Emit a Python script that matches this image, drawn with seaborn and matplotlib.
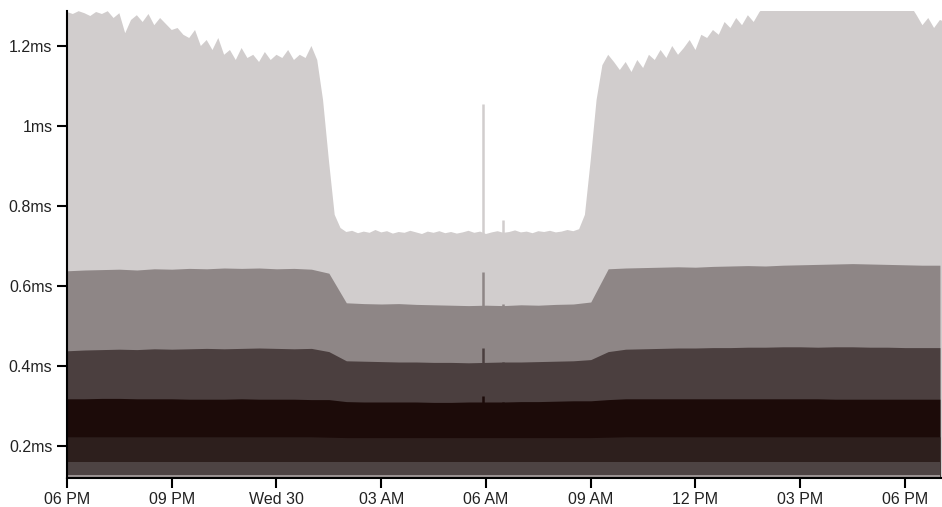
import numpy as np
import matplotlib
matplotlib.use("Agg")
import matplotlib.pyplot as plt
import seaborn as sns

# hours since 06 PM, 10-minute buckets for the outer band, 30-minute for the rest
top_light = [
    1.285, 1.280, 1.287, 1.282, 1.275, 1.285, 1.280, 1.287, 1.270, 1.282,
    1.232, 1.265, 1.277, 1.260, 1.280, 1.252, 1.270, 1.255, 1.240, 1.245,
    1.228, 1.220, 1.240, 1.200, 1.215, 1.190, 1.220, 1.178, 1.190, 1.165,
    1.195, 1.170, 1.178, 1.160, 1.185, 1.165, 1.178, 1.170, 1.190, 1.165,
    1.178, 1.170, 1.200, 1.165, 1.065, 0.915, 0.778, 0.745, 0.735, 0.738,
    0.732, 0.736, 0.733, 0.740, 0.734, 0.737, 0.731, 0.735, 0.733, 0.738,
    0.734, 0.730, 0.736, 0.733, 0.737, 0.732, 0.735, 0.731, 0.734, 0.738,
    0.733, 0.736, 0.730, 0.734, 0.737, 0.733, 0.735, 0.739, 0.734, 0.736,
    0.732, 0.737, 0.735, 0.738, 0.734, 0.736, 0.740, 0.737, 0.742, 0.778,
    0.915, 1.065, 1.152, 1.178, 1.160, 1.140, 1.160, 1.135, 1.165, 1.145,
    1.178, 1.165, 1.190, 1.170, 1.200, 1.178, 1.195, 1.215, 1.190, 1.228,
    1.220, 1.240, 1.228, 1.260, 1.245, 1.270, 1.252, 1.277, 1.260, 1.285,
    1.300, 1.300, 1.300, 1.300, 1.300, 1.300, 1.300, 1.300, 1.300, 1.300,
    1.300, 1.300, 1.300, 1.300, 1.300, 1.300, 1.300, 1.300, 1.300, 1.300,
    1.300, 1.300, 1.300, 1.300, 1.300, 1.300, 1.277, 1.252, 1.270, 1.245,
    1.265, 1.260,
]
top_medium = [
    0.638, 0.640, 0.641, 0.642, 0.640, 0.643, 0.642, 0.644, 0.643, 0.645,
    0.644, 0.645, 0.643, 0.644, 0.642, 0.632, 0.558, 0.556, 0.555, 0.556,
    0.554, 0.553, 0.552, 0.551, 0.552, 0.551, 0.553, 0.552, 0.554, 0.555,
    0.560, 0.643, 0.645, 0.646, 0.647, 0.648, 0.647, 0.649, 0.650, 0.651,
    0.650, 0.652, 0.653, 0.654, 0.655, 0.656, 0.655, 0.654, 0.653, 0.652,
    0.652,
]
top_dark = [
    0.438, 0.440, 0.441, 0.442, 0.441, 0.443, 0.442, 0.443, 0.444, 0.443,
    0.444, 0.445, 0.444, 0.443, 0.444, 0.436, 0.413, 0.412, 0.411, 0.410,
    0.410, 0.409, 0.409, 0.408, 0.409, 0.410, 0.410, 0.411, 0.412, 0.413,
    0.416, 0.436, 0.442, 0.443, 0.444, 0.445, 0.445, 0.446, 0.446, 0.447,
    0.447, 0.448, 0.448, 0.447, 0.448, 0.448, 0.447, 0.447, 0.446, 0.446,
    0.446,
]
top_darkest = [
    0.318, 0.318, 0.319, 0.319, 0.318, 0.318, 0.318, 0.317, 0.317, 0.317,
    0.318, 0.317, 0.317, 0.317, 0.316, 0.316, 0.311, 0.310, 0.310, 0.310,
    0.310, 0.309, 0.309, 0.310, 0.310, 0.310, 0.311, 0.311, 0.312, 0.313,
    0.313, 0.316, 0.318, 0.318, 0.318, 0.318, 0.318, 0.318, 0.318, 0.318,
    0.318, 0.318, 0.318, 0.318, 0.317, 0.317, 0.317, 0.317, 0.317, 0.317,
    0.317,
]
top_low1 = [
    0.223, 0.223, 0.223, 0.223, 0.223, 0.223, 0.223, 0.223, 0.223, 0.223,
    0.223, 0.223, 0.223, 0.223, 0.223, 0.222, 0.221, 0.221, 0.221, 0.221,
    0.221, 0.221, 0.221, 0.221, 0.221, 0.221, 0.221, 0.221, 0.221, 0.221,
    0.221, 0.222, 0.223, 0.223, 0.223, 0.223, 0.223, 0.223, 0.223, 0.223,
    0.223, 0.223, 0.223, 0.223, 0.223, 0.223, 0.223, 0.223, 0.223, 0.223,
    0.223,
]
top_low2 = [0.160] * 51
top_low3 = [0.1275] * 51

spike_hours = [11.92, 12.50]
spike_light = [1.055, 0.765]
spike_medium = [0.635, 0.555]
spike_dark = [0.445, 0.410]
spike_darkest = [0.325, 0.310]

tick_hours = [0, 3, 6, 9, 12, 15, 18, 21, 24]
tick_labels = ["06 PM", "09 PM", "Wed 30", "03 AM", "06 AM",
               "09 AM", "12 PM", "03 PM", "06 PM"]
ytick_vals = [0.2, 0.4, 0.6, 0.8, 1.0, 1.2]
ytick_labels = ["0.2ms", "0.4ms", "0.6ms", "0.8ms", "1ms", "1.2ms"]

sns.set_style("ticks")
plt.rcParams['font.family'] = ['Liberation Sans', 'DejaVu Sans']

hours_fine = np.arange(len(top_light)) / 6.0
hours_half = np.arange(len(top_medium)) / 2.0

fig = plt.figure(figsize=(9.42, 5.07), dpi=100)
ax = fig.add_axes([67 / 942, 1 - 478 / 507, 875 / 942, 467 / 507])

layers = [
    (hours_fine, top_light, "#d1cdcd", spike_light),
    (hours_half, top_medium, "#8e8686", spike_medium),
    (hours_half, top_dark, "#4b3f3f", spike_dark),
    (hours_half, top_darkest, "#1c0b09", spike_darkest),
    (hours_half, top_low1, "#2d1f1d", None),
    (hours_half, top_low2, "#4d4343", None),
    (hours_half, top_low3, "#9a9292", None),
]
for k, (x, y, color, spikes) in enumerate(layers):
    ax.fill_between(x, 0, y, color=color, linewidth=0, zorder=1 + 2 * k)
    if spikes is not None:
        ax.vlines(spike_hours, 0, spikes, colors=color, linewidth=1.8,
                  zorder=2 + 2 * k)

ax.set_xlim(0, 25.06)
ax.set_ylim(0.12, 1.2875)
ax.set_xticks(tick_hours)
ax.set_xticklabels(tick_labels)
ax.set_yticks(ytick_vals)
ax.set_yticklabels(ytick_labels)

sns.despine(ax=ax)
for side in ["left", "bottom"]:
    ax.spines[side].set_linewidth(1.5)
    ax.spines[side].set_color("black")
    ax.spines[side].set_zorder(30)
ax.tick_params(axis="both", length=7, width=1.5, color="black",
               labelsize=11.5, labelcolor="#222222")
ax.tick_params(axis="y", pad=3.5)
ax.tick_params(axis="x", pad=3)

fig.savefig("out.png", dpi=100)
